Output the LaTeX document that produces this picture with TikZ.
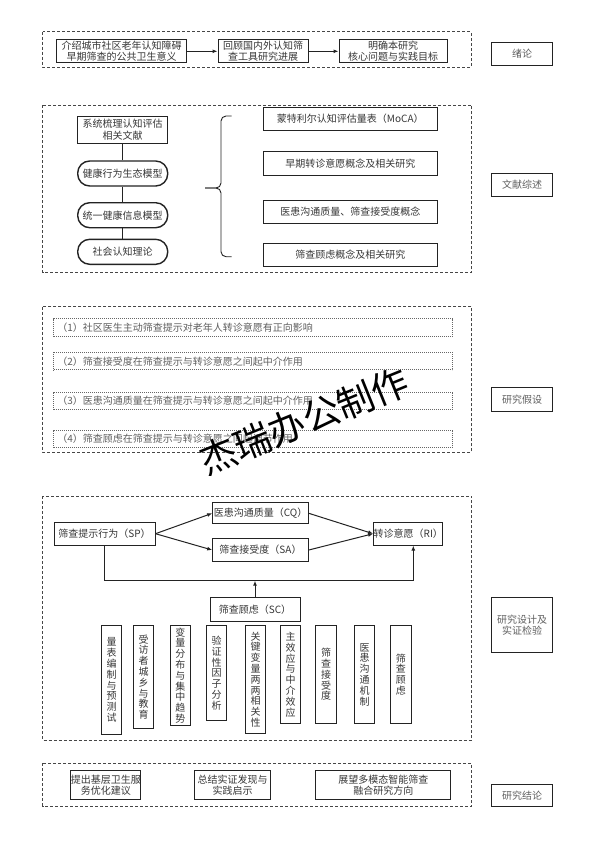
\documentclass[tikz,border=0pt]{standalone}
\usepackage{fontspec}
\setmainfont{Noto Sans CJK SC}
\newfontfamily\wmfont{Noto Sans CJK SC}
\usetikzlibrary{arrows.meta}
\definecolor{txt}{RGB}{55,55,55}
\definecolor{htxt}{RGB}{95,95,95}
\definecolor{edge}{RGB}{35,35,35}
\definecolor{frame}{RGB}{70,70,70}
\begin{document}
\begin{tikzpicture}[x=1pt,y=-1pt,
  every node/.style={font=\fontsize{10}{11.5}\selectfont, text=txt, inner sep=0pt},
  sz/.style 2 args={minimum width=#1pt, minimum height=#2pt},
  sect/.style={draw=frame, dash pattern=on 3pt off 2pt, line width=0.9pt},
  bx/.style={draw=edge, line width=1pt, align=center},
  st/.style={draw=edge, line width=1.4pt, rounded corners=12pt, align=center},
  hyp/.style={draw=gray!80!black, densely dotted, line width=1pt, minimum height=17.5pt, text width=392pt, inner xsep=3.35pt, align=left, text=htxt},
  vb/.style={draw=edge, line width=1pt, align=center, anchor=north, minimum width=20.5pt, font=\fontsize{10}{10.8}\selectfont},
  lab/.style={draw=edge, line width=0.8pt, align=center, minimum width=61pt, text=htxt},
  ln/.style={draw=edge, line width=1pt},
  arr/.style={draw=edge, line width=1pt, -{Latex[length=5pt,width=4pt]}}
]
\fill[white] (0,0) rectangle (594,841);
\useasboundingbox (0,0) rectangle (594,841);

% ---------- Section 1
\draw[sect] (42.7,31.7) rectangle (471,67);
\node[bx, sz={130}{22.7}] (a1) at (121.7,51.3) {介绍城市社区老年认知障碍\\早期筛查的公共卫生意义};
\node[bx, sz={90}{22.7}] (a2) at (263,51.3) {回顾国内外认知筛\\查工具研究进展};
\node[bx, sz={108}{22.7}] (a3) at (393,51.3) {明确本研究\\核心问题与实践目标};
\draw[arr] (a1) -- (a2);
\draw[arr] (a2) -- (a3);

% ---------- Section 2
\draw[sect] (42.7,105) rectangle (471.7,272.7);
\node[bx, sz={90}{27.3}] (l1) at (122.7,129.7) {系统梳理认知评估\\相关文献};
\node[st, sz={90}{25}] (l2) at (122.7,173.5) {健康行为生态模型};
\node[st, sz={90}{25}] (l3) at (122.7,215.2) {统一健康信息模型};
\node[st, sz={90}{25}] (l4) at (122.7,251.8) {社会认知理论};
\draw[ln] (l1) -- (l2);
\draw[ln] (l2) -- (l3);
\draw[ln] (l3) -- (l4);
\coordinate (bt) at (231.7,116);
\coordinate (bb) at (231.7,256.7);
\coordinate (bm) at (205,188);
\draw[ln, line width=0.9pt, rounded corners=5pt] (bt) -- (221,116) -- (221,188) -- (bm);
\draw[ln, line width=0.9pt, rounded corners=5pt] (bb) -- (221,256.7) -- (221,188) -- (bm);
\node[bx, sz={174}{23.4}] (r1) at (350.3,119) {蒙特利尔认知评估量表（MoCA）};
\node[bx, sz={174}{23.4}] (r2) at (350.3,163.3) {早期转诊意愿概念及相关研究};
\node[bx, sz={174}{23.4}] (r3) at (350.3,211.7) {医患沟通质量、筛查接受度概念};
\node[bx, sz={174}{23.4}] (r4) at (350.3,255) {筛查顾虑概念及相关研究};

% ---------- Section 3
\draw[sect] (42.7,306.7) rectangle (471.7,452);
\node[hyp] (h1) at (253.3,327.3) {（1）社区医生主动筛查提示对老年人转诊意愿有正向影响};
\node[hyp] (h2) at (253.3,361.2) {（2）筛查接受度在筛查提示与转诊意愿之间起中介作用};
\node[hyp] (h3) at (253.3,400.8) {（3）医患沟通质量在筛查提示与转诊意愿之间起中介作用};
\node[hyp] (h4) at (253.3,438.8) {（4）筛查顾虑在筛查提示与转诊意愿之间起调节作用};

% ---------- Section 4
\draw[sect] (42.7,496) rectangle (471.7,740);
\node[bx, sz={101}{22.7}] (sp) at (104.5,533.7) {筛查提示行为（SP）};
\node[bx, sz={95.6}{21.3}] (cq) at (260.5,513.3) {医患沟通质量（CQ）};
\node[bx, sz={95.6}{23.4}] (sa) at (260.5,550) {筛查接受度（SA）};
\node[bx, sz={68}{22.7}] (ri) at (408.3,533.7) {转诊意愿（RI）};
\node[bx, sz={90}{24.4}] (sc) at (255,609.5) {筛查顾虑（SC）};
\draw[arr] (sp.east) -- (cq.west);
\draw[arr] (sp.east) -- (sa.west);
\draw[arr] (cq.east) -- (ri.west);
\draw[arr] (sa.east) -- (ri.west);
\coordinate (j2) at (413.3,580.7);
\coordinate (j3) at (255,580.7);
\draw[arr] (sp.south) |- (j2) -- (ri.south -| j2);
\draw[arr] (sc.north) -- (j3);

\node[vb, minimum height=109pt] (v1) at (111.5,625) {量\\表\\编\\制\\与\\预\\测\\试};
\node[vb, minimum height=103pt] (v2) at (143.7,625) {受\\访\\者\\城\\乡\\与\\教\\育};
\node[vb, minimum height=100pt] (v3) at (180.3,625) {变\\量\\分\\布\\与\\集\\中\\趋\\势};
\node[vb, minimum height=95pt] (v4) at (216.7,625) {验\\证\\性\\因\\子\\分\\析};
\node[vb, minimum height=108pt] (v5) at (255.7,625) {关\\键\\变\\量\\两\\两\\相\\关\\性};
\node[vb, minimum height=98pt] (v6) at (290.5,625) {主\\效\\应\\与\\中\\介\\效\\应};
\node[vb, minimum height=98pt] (v7) at (326,625) {筛\\查\\接\\受\\度};
\node[vb, minimum height=98pt] (v8) at (364.5,625) {医\\患\\沟\\通\\机\\制};
\node[vb, minimum height=98pt] (v9) at (400.8,625) {筛\\查\\顾\\虑};

% ---------- Section 5
\draw[sect] (42.7,763.3) rectangle (471.7,806);
\node[bx, sz={70.3}{28.6}] (c1) at (105.8,785) {提出基层卫生服\\务优化建议};
\node[bx, sz={76.4}{28.6}] (c2) at (232.5,785) {总结实证发现与\\实践启示};
\node[bx, sz={134.7}{28.6}] (c3) at (383.3,785) {展望多模态智能筛查\\融合研究方向};

% ---------- Right labels
\node[lab, minimum height=22.3pt] (s1) at (522.2,53.8) {绪论};
\node[lab, minimum height=23pt] (s2) at (522.2,184.5) {文献综述};
\node[lab, minimum height=23.3pt] (s3) at (522.2,399.3) {研究假设};
\node[lab, minimum height=55pt] (s4) at (522.2,625.2) {研究设计及\\实证检验};
\node[lab, minimum height=22.7pt] (s5) at (522.2,795.3) {研究结论};

% ---------- Watermark
\node[font=\wmfont\fontsize{37}{37}\selectfont, text=black, rotate=22] (wm) at (304,421) {杰瑞办公制作};
\end{tikzpicture}
\end{document}
